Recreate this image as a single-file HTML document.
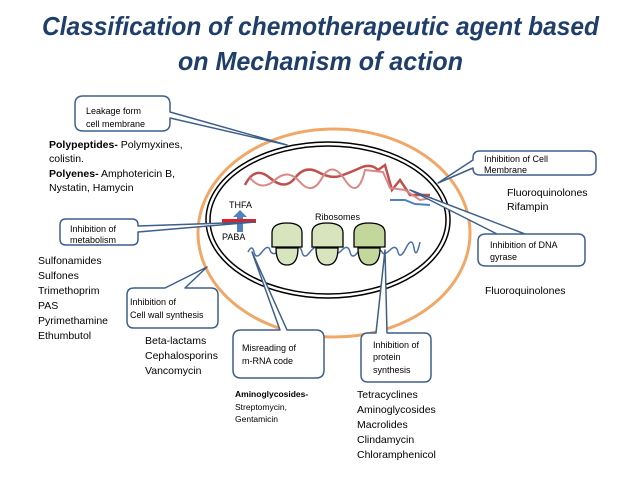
<!DOCTYPE html>
<html><head><meta charset="utf-8"><style>
html,body{margin:0;padding:0;background:#fff}
svg{display:block;font-family:"Liberation Sans",sans-serif}
</style></head><body>
<svg width="638" height="479" viewBox="0 0 638 479" xmlns="http://www.w3.org/2000/svg">
<g fill="#1f3f6a" font-weight="bold" font-style="italic" font-size="26">
<text x="42" y="35" textLength="557" lengthAdjust="spacingAndGlyphs">Classification of chemotherapeutic agent based</text>
<text x="178" y="70" textLength="285" lengthAdjust="spacingAndGlyphs">on Mechanism of action</text>
</g>
<!-- cell -->
<ellipse cx="334" cy="233" rx="136" ry="104" fill="none" stroke="#f0a868" stroke-width="3"/>
<ellipse cx="328" cy="220" rx="122" ry="78" fill="none" stroke="#000" stroke-width="1.5"/>
<ellipse cx="328" cy="220" rx="118" ry="74" fill="none" stroke="#000" stroke-width="1.5"/>
<!-- DNA -->
<path d="M245 185 Q255 165 270 178 T295 178 T318 172 T340 176 T360 168 T378 170 L385 165 L392 190 L400 180 L410 195 L430 195" fill="none" stroke="#c0504d" stroke-width="2.5"/>
<path d="M250 178 Q262 192 275 180 T300 182 T322 178 T345 180 T365 170 L383 172 L390 188 L405 190 L420 200 L432 198" fill="none" stroke="#d98886" stroke-width="2"/>
<path d="M390 200 L405 200 L415 204 L430 205" fill="none" stroke="#4f81bd" stroke-width="2"/>
<!-- mRNA -->
<path d="M248 252 q4 -8 6 0 t8 0 t8 -2 t8 2 t8 0 t8 -2 t8 2 t8 0 t8 -2 t8 2 t8 0 t8 -2 t8 2 t8 0 t8 -2 t8 2 t8 0 t8 -2 t8 2 t8 -4 t8 0 t6 -6" fill="none" stroke="#4a6fa5" stroke-width="1.5"/>
<!-- ribosomes -->
<g fill="#d7e4bd" stroke="#000" stroke-width="1.3">
<path d="M272 247 V233 q0 -10 15 -10 q15 0 15 10 V247 Z"/>
<path d="M312 247 V233 q0 -10 15 -10 q16 0 16 10 V247 Z"/>
<path d="M354 247 V233 q0 -10 15 -10 q16 0 16 10 V247 Z" fill="#c3d69b"/>
<path d="M276 248 q0 17 11 17 q11 0 11 -17 Z"/>
<path d="M316 248 q0 17 11 17 q11 0 11 -17 Z"/>
<path d="M358 248 q0 17 11 17 q11 0 11 -17 Z" fill="#c3d69b"/>
</g>
<text x="315" y="220" font-size="9">Ribosomes</text>
<!-- THFA/PABA -->
<text x="229" y="208" font-size="9">THFA</text>
<text x="222" y="240" font-size="9">PABA</text>
<path d="M237 232 V217 h-4 l7 -7 l7 7 h-4 V232 Z" fill="#4f81bd"/>
<rect x="222" y="219" width="34" height="4" fill="#e0202a"/>
<!-- callouts -->
<g fill="#fff" stroke="#3e5f8a" stroke-width="1.5" stroke-linejoin="round">
<path d="M83 96 H162 q8 0 8 8 V112 L287 145 L170 118 V123 q0 8 -8 8 H83 q-8 0 -8 -8 V104 q0 -8 8 -8 Z"/>
<path d="M66 219 H132 q6 0 6 6 V226 L255 222 L138 232 V239 q0 6 -6 6 H66 q-6 0 -6 -6 V225 q0 -6 6 -6 Z"/>
<path d="M134 288 H165 L207 267 L185 288 H211 q7 0 7 7 V321 q0 7 -7 7 H134 q-7 0 -7 -7 V295 q0 -7 7 -7 Z"/>
<path d="M241 330 H280 L252 252 L287 330 H316 q8 0 8 8 V370 q0 8 -8 8 H241 q-8 0 -8 -8 V338 q0 -8 8 -8 Z"/>
<path d="M368 333 H376 L385 250 L387 333 H424 q7 0 7 7 V375 q0 7 -7 7 H368 q-7 0 -7 -7 V340 q0 -7 7 -7 Z"/>
<path d="M480 151 H589 q7 0 7 7 V168 q0 7 -7 7 H480 q-7 0 -7 -7 V168 L438 183 L473 160 V158 q0 -7 7 -7 Z"/>
<path d="M486 234 H525 L410 190 L497 234 H578 q7 0 7 7 V259 q0 7 -7 7 H486 q-8 0 -8 -7 V241 q0 -7 8 -7 Z"/>
</g>
<g font-size="9" fill="#000">
<text x="86" y="114">Leakage form</text><text x="86" y="127">cell membrane</text>
<text x="70" y="232">Inhibition of</text><text x="70" y="243">metabolism</text>
<text x="130" y="305">Inhibition of</text><text x="130" y="318">Cell wall  synthesis</text>
<text x="242" y="351">Misreading of</text><text x="242" y="364">m-RNA code</text>
<text x="373" y="348">Inhibition of</text><text x="373" y="360">protein</text><text x="373" y="373">synthesis</text>
<text x="484" y="162">Inhibition of Cell</text><text x="484" y="173">Membrane</text>
<text x="490" y="248">Inhibition of DNA</text><text x="490" y="260">gyrase</text>
</g>
<g font-size="10.5" fill="#000">
<text x="49" y="148"><tspan font-weight="bold">Polypeptides-</tspan> Polymyxines,</text>
<text x="49" y="162">colistin.</text>
<text x="49" y="177"><tspan font-weight="bold">Polyenes-</tspan> Amphotericin B,</text>
<text x="49" y="191">Nystatin, Hamycin</text>
<text x="38" y="264">Sulfonamides</text>
<text x="38" y="279">Sulfones</text>
<text x="38" y="294">Trimethoprim</text>
<text x="38" y="309">PAS</text>
<text x="38" y="324">Pyrimethamine</text>
<text x="38" y="339">Ethumbutol</text>
<text x="145" y="344">Beta-lactams</text>
<text x="145" y="359">Cephalosporins</text>
<text x="145" y="374">Vancomycin</text>
<text x="357" y="398">Tetracyclines</text>
<text x="357" y="413">Aminoglycosides</text>
<text x="357" y="428">Macrolides</text>
<text x="357" y="443">Clindamycin</text>
<text x="357" y="458">Chloramphenicol</text>
<text x="507" y="196">Fluoroquinolones</text>
<text x="507" y="210">Rifampin</text>
<text x="485" y="294">Fluoroquinolones</text>
</g>
<g font-size="8.5" fill="#000">
<text x="235" y="397" font-weight="bold">Aminoglycosides-</text>
<text x="235" y="410">Streptomycin,</text>
<text x="235" y="422">Gentamicin</text>
</g>
</svg>
</body></html>
